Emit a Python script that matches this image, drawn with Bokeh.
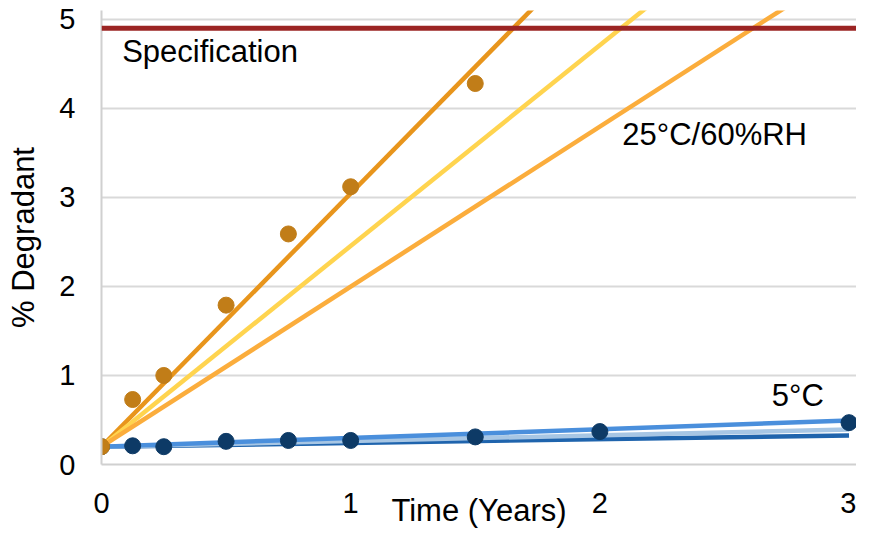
from bokeh.plotting import figure
from bokeh.models import Label, Span, FixedTicker, Range1d
from bokeh.embed import file_html
from bokeh.resources import INLINE

# ---- data ----
time_25 = [0, 0.125, 0.25, 0.5, 0.75, 1.0, 1.5]
deg_25 = [0.2, 0.73, 1.0, 1.79, 2.59, 3.12, 4.28]

time_5 = [0, 0.125, 0.25, 0.5, 0.75, 1.0, 1.5, 2.0, 3.0]
deg_5 = [0.2, 0.21, 0.2, 0.26, 0.27, 0.27, 0.31, 0.37, 0.47]

fit_intercept = 0.2
fit_slopes_25 = [2.845, 2.255, 1.798]
fit_colors_25 = ["#E8951C", "#FFD44F", "#FBAD3C"]
fit_slopes_5 = [0.042, 0.064, 0.098]
fit_colors_5 = ["#1F64AD", "#A7C6E4", "#4A8FDC"]
fit_x = [0, 3]

spec_limit = 4.9

x_ticks = [0, 1, 2, 3]
y_ticks = [0, 1, 2, 3, 4, 5]

FONT = "Liberation Sans"

p = figure(width=856, height=530, output_backend="svg", toolbar_location=None,
           x_range=Range1d(0, 3.03), y_range=Range1d(0, 5.1),
           min_border_left=101, min_border_right=0, min_border_top=10,
           min_border_bottom=64)
p.outline_line_color = None
p.background_fill_color = "white"

# axes
for ax in (p.xaxis[0], p.yaxis[0]):
    ax.axis_line_color = "#D0D0D0"
    ax.axis_line_width = 2
    ax.major_tick_line_color = None
    ax.minor_tick_line_color = None
    ax.major_tick_out = 0
    ax.major_tick_in = 0
    ax.major_label_text_font = FONT
    ax.major_label_text_font_size = "29px"
    ax.major_label_text_color = "#000000"
    ax.axis_label_text_font = FONT
    ax.axis_label_text_font_size = "31px"
    ax.axis_label_text_font_style = "normal"
    ax.axis_label_text_color = "#000000"
p.xaxis.ticker = FixedTicker(ticks=x_ticks)
p.yaxis.ticker = FixedTicker(ticks=y_ticks)
p.xaxis.major_label_standoff = 28
p.yaxis.major_label_standoff = 26
p.xaxis.axis_label = "Time (Years)"
p.yaxis.axis_label = "% Degradant"
p.xaxis.axis_label_standoff = -23
p.yaxis.axis_label_standoff = 15

p.xgrid.grid_line_color = None
p.ygrid.ticker = FixedTicker(ticks=y_ticks)
p.ygrid.grid_line_color = "#D9D9D9"
p.ygrid.grid_line_width = 2

# specification line
p.add_layout(Span(location=spec_limit, dimension="width", line_color="#9B2423",
                  line_width=5))

# 5C fits
for s, c in zip(fit_slopes_5, fit_colors_5):
    p.line(fit_x, [fit_intercept + s * x for x in fit_x], line_color=c, line_width=4.5)
p.scatter(time_5, deg_5, size=16, fill_color="#0D3A66", line_color="#0D3A66")

# 25C fits
for s, c in zip(fit_slopes_25, fit_colors_25):
    p.line(fit_x, [fit_intercept + s * x for x in fit_x], line_color=c, line_width=4.5)
p.scatter(time_25, deg_25, size=16, fill_color="#C17D18", line_color="#C17D18")

# annotations
def lab(x, y, text):
    p.add_layout(Label(x=x, y=y, text=text, text_font=FONT, text_font_size="31px",
                       text_align="left", text_baseline="middle",
                       text_color="#000000"))

lab(0.083, 4.64, "Specification")
lab(2.09, 3.71, "25°C/60%RH")
lab(2.69, 0.78, "5°C")

open("out.html", "w").write(file_html(p, INLINE))
